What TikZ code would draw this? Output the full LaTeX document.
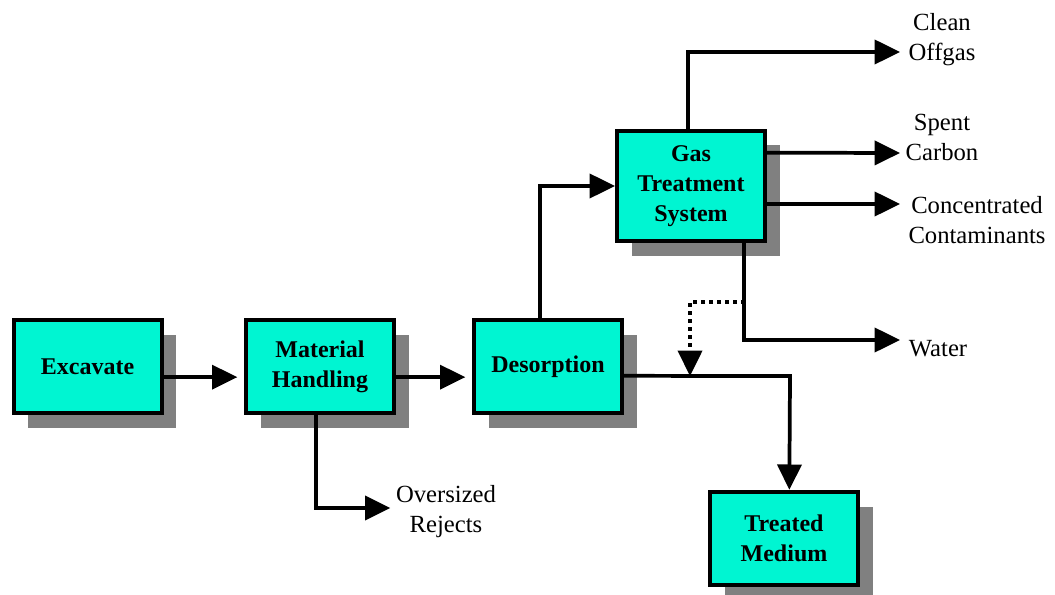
\documentclass[tikz,border=0pt]{standalone}
\usepackage{fontspec}
\setmainfont{Liberation Serif}
\definecolor{aqua}{RGB}{0,245,210}
\definecolor{shade}{RGB}{128,128,128}
\usetikzlibrary{arrows.meta,shadows}

\begin{document}
\begin{tikzpicture}[x=0.75pt,y=0.75pt,yscale=-1,xscale=1,
	box/.style={draw, line width=3pt, fill=aqua, align=center, inner sep=0pt,
		minimum width=111pt, minimum height=70pt,
		font=\fontsize{18}{22.5}\selectfont\bfseries,
		drop shadow={shadow xshift=11pt, shadow yshift=-11pt, fill=shade, opacity=1}},
	lbl/.style={align=center, inner sep=1pt, font=\fontsize{18.5}{22.5}\selectfont},
	flow/.style={line width=2.8pt, -{Triangle[length=19pt,width=18pt]}}]
	\useasboundingbox (0,0) rectangle (1055,595);
	
	% Boxes
	\node [box] (exc) at (87.5,366.5) {Excavate};
	\node [box] (mh) at (320,366.5) {Material\\Handling};
	\node [box] (des) at (548,366.5) {Desorption};
	\node [box, minimum height=83pt] (gas) at (691,186) {Gas\\Treatment\\System};
	\node [box] (trt) at (784,538.5) {Treated\\Medium};
	
	% Output labels
	\node [lbl] (off) at (942,40) {Clean\\Offgas};
	\node [lbl] (spc) at (942,137) {Spent\\Carbon};
	\node [lbl] (con) at (977,220) {Concentrated\\Contaminants};
	\node [lbl] (wat) at (938,349) {Water};
	\node [lbl] (rej) at (446,512) {Oversized\\Rejects};
	
	% Junctions
	\coordinate (split) at (745,302);
	\coordinate (mix) at (690,376);
	\coordinate (bend) at (790,376);
	
	% Main line
	\draw [flow] ([yshift=8pt]exc.east) -- ([xshift=-5pt,yshift=8pt]mh.west);
	\draw [flow] ([yshift=8pt]mh.east) -- ([xshift=-5pt,yshift=8pt]des.west);
	\draw [flow] ([xshift=-3pt]mh.south) |- ([xshift=-3pt,yshift=-3pt]rej.west);
	\draw [flow] ([xshift=-6pt]des.north) |- (gas.west);
	\draw [flow] ([yshift=7pt]des.east) -- (bend) -- ([xshift=4pt]trt.north);
	
	% Gas treatment outputs
	\draw [flow] ([xshift=-2pt]gas.north) |- (900,52);
	\draw [flow] ([yshift=-25pt]gas.east) -- (900,153);
	\draw [flow] ([yshift=13.5pt]gas.east) -- (900,204);
	\draw [flow] ([xshift=40pt]gas.south) |- (900,340);
	
	% Recycle
	\draw [line width=2.8pt, dash pattern=on 3pt off 3pt, -{Triangle[length=19pt,width=18pt]}]
		(split) -| (mix);
\end{tikzpicture}
\end{document}
